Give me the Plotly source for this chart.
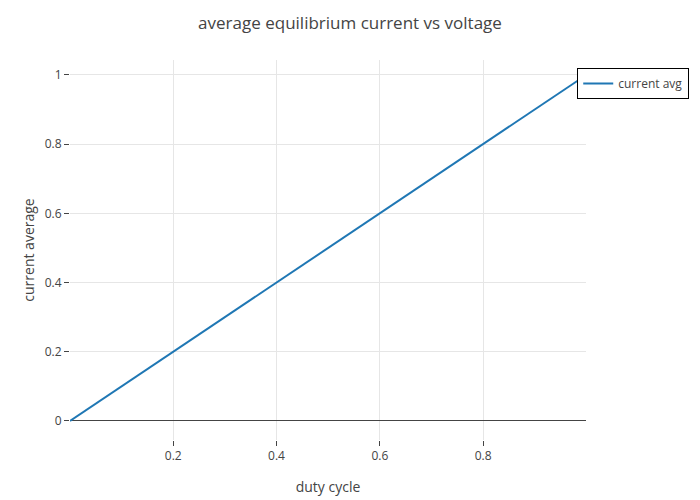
import plotly.graph_objects as go

duty_cycle = [0.0, 0.1, 0.2, 0.3, 0.4, 0.5, 0.6, 0.7, 0.8, 0.9, 0.999]
current_avg = [0.0, 0.1, 0.2, 0.3, 0.4, 0.5, 0.6, 0.7, 0.8, 0.9, 0.999]
x_ticks = [0.2, 0.4, 0.6, 0.8]
y_ticks = [0, 0.2, 0.4, 0.6, 0.8, 1]
y_labels = ["0", "0.2", "0.4", "0.6", "0.8", "1"]

fig = go.Figure()
fig.add_trace(go.Scatter(
    x=duty_cycle, y=current_avg, mode="lines", name="current avg",
    line=dict(color="#1f77b4", width=2),
))

font_family = "Open Sans, verdana, arial, sans-serif"
fig.update_layout(
    width=700, height=500,
    paper_bgcolor="white", plot_bgcolor="white",
    font=dict(family=font_family, color="#444", size=12),
    title=dict(text="average equilibrium current vs voltage", x=0.5, xanchor="center",
               xref="container", y=0.953, yref="container", yanchor="middle",
               automargin=False, font=dict(size=17, color="#444")),
    margin=dict(l=70, r=114, t=60, b=60, autoexpand=False),
    showlegend=True,
    legend=dict(x=0.983, y=0.979, xanchor="left", yanchor="top",
                bordercolor="#000", borderwidth=1, bgcolor="white",
                font=dict(size=12, color="#444")),
    xaxis=dict(
        title=dict(text="duty cycle", font=dict(size=14), standoff=18),
        range=[0, 0.9993], tickvals=x_ticks, ticktext=[str(v) for v in x_ticks],
        showgrid=True, gridcolor="#e6e6e6", gridwidth=1, zeroline=False,
        ticks="outside", ticklen=5, tickcolor="#444", showline=False,
        automargin=False,
    ),
    yaxis=dict(
        title=dict(text="current average", font=dict(size=14), standoff=6),
        range=[-0.055, 1.043], tickvals=y_ticks, ticktext=y_labels,
        showgrid=True, gridcolor="#e6e6e6", gridwidth=1,
        zeroline=True, zerolinecolor="#444", zerolinewidth=1,
        ticks="outside", ticklen=5, tickcolor="#444", showline=False,
        automargin=False,
    ),
)

fig.write_html("out.html", config={"displayModeBar": False},
               post_script="document.body.style.margin='0';document.body.style.overflow='hidden';")
